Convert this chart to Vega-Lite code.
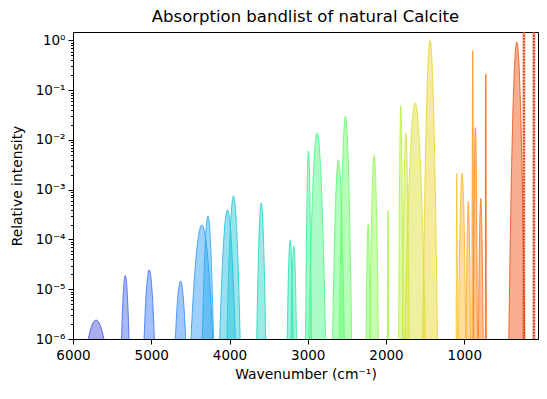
{
  "$schema": "https://vega.github.io/schema/vega-lite/v6.json",
  "autosize": "none",
  "width": 465,
  "height": 307,
  "padding": {"left": 73, "top": 32, "right": 9, "bottom": 60},
  "background": "white",
  "title": {"text": "Absorption bandlist of natural Calcite", "fontSize": 16.5, "fontWeight": "normal", "font": "DejaVu Sans", "color": "black", "anchor": "middle", "offset": 5},
  "config": {
    "font": "DejaVu Sans",
    "view": {"stroke": "black", "strokeWidth": 1},
    "axis": {"labelFont": "DejaVu Sans", "titleFont": "DejaVu Sans", "labelFontSize": 13.5, "titleFontSize": 13.9, "labelColor": "black", "titleColor": "black", "tickColor": "black", "domainColor": "black", "grid": false, "titleFontWeight": "normal", "labelOverlap": false}
  },
  "datasets": {
    "bands": [
      {"band":1,"wn":5605,"y":1e-6},{"band":1,"wn":5625,"y":1.37e-6},{"band":1,"wn":5655,"y":1.93e-6},{"band":1,"wn":5680,"y":2.27e-6},{"band":1,"wn":5705,"y":2.4e-6},{"band":1,"wn":5730,"y":2.27e-6},{"band":1,"wn":5755,"y":1.93e-6},{"band":1,"wn":5785,"y":1.37e-6},{"band":1,"wn":5805,"y":1e-6},
      {"band":2,"wn":5284,"y":1e-6},{"band":2,"wn":5293.6,"y":2.89e-6},{"band":2,"wn":5308,"y":9.1e-6},{"band":2,"wn":5320,"y":1.58e-5},{"band":2,"wn":5332,"y":1.9e-5},{"band":2,"wn":5344,"y":1.58e-5},{"band":2,"wn":5356,"y":9.1e-6},{"band":2,"wn":5370.4,"y":2.89e-6},{"band":2,"wn":5380,"y":1e-6},
      {"band":3,"wn":4960,"y":1e-6},{"band":3,"wn":4973.2,"y":3.16e-6},{"band":3,"wn":4993,"y":1.1e-5},{"band":3,"wn":5009.5,"y":2.0e-5},{"band":3,"wn":5026,"y":2.45e-5},{"band":3,"wn":5042.5,"y":2.0e-5},{"band":3,"wn":5059,"y":1.1e-5},{"band":3,"wn":5078.8,"y":3.16e-6},{"band":3,"wn":5092,"y":1e-6},
      {"band":4,"wn":4560,"y":1e-6},{"band":4,"wn":4573.2,"y":2.62e-6},{"band":4,"wn":4593,"y":7.46e-6},{"band":4,"wn":4609.5,"y":1.23e-5},{"band":4,"wn":4626,"y":1.46e-5},{"band":4,"wn":4642.5,"y":1.23e-5},{"band":4,"wn":4659,"y":7.46e-6},{"band":4,"wn":4678.8,"y":2.62e-6},{"band":4,"wn":4692,"y":1e-6},
      {"band":5,"wn":4213,"y":1e-6},{"band":5,"wn":4241,"y":6.67e-6},{"band":5,"wn":4283,"y":5.22e-5},{"band":5,"wn":4318,"y":1.4e-4},{"band":5,"wn":4353,"y":1.95e-4},{"band":5,"wn":4388,"y":1.4e-4},{"band":5,"wn":4423,"y":5.22e-5},{"band":5,"wn":4465,"y":6.67e-6},{"band":5,"wn":4493,"y":1e-6},
      {"band":6,"wn":4204,"y":1e-6},{"band":6,"wn":4218.4,"y":7.75e-6},{"band":6,"wn":4240,"y":7.12e-5},{"band":6,"wn":4258,"y":2.07e-4},{"band":6,"wn":4276,"y":2.95e-4},{"band":6,"wn":4294,"y":2.07e-4},{"band":6,"wn":4312,"y":7.12e-5},{"band":6,"wn":4333.6,"y":7.75e-6},{"band":6,"wn":4348,"y":1e-6},
      {"band":7,"wn":3926,"y":1e-6},{"band":7,"wn":3946,"y":8.57e-6},{"band":7,"wn":3976,"y":8.77e-5},{"band":7,"wn":4001,"y":2.69e-4},{"band":7,"wn":4026,"y":3.9e-4},{"band":7,"wn":4051,"y":2.69e-4},{"band":7,"wn":4076,"y":8.77e-5},{"band":7,"wn":4106,"y":8.57e-6},{"band":7,"wn":4126,"y":1e-6},
      {"band":8,"wn":3864,"y":1e-6},{"band":8,"wn":3881,"y":1.08e-5},{"band":8,"wn":3906.5,"y":1.43e-4},{"band":8,"wn":3928,"y":4.96e-4},{"band":8,"wn":3949,"y":7.5e-4},{"band":8,"wn":3970,"y":4.96e-4},{"band":8,"wn":3991.5,"y":1.43e-4},{"band":8,"wn":4017,"y":1.08e-5},{"band":8,"wn":4034,"y":1e-6},
      {"band":9,"wn":3538,"y":1e-6},{"band":9,"wn":3549.4,"y":9.6e-6},{"band":9,"wn":3566.5,"y":1.12e-4},{"band":9,"wn":3581,"y":3.64e-4},{"band":9,"wn":3595,"y":5.4e-4},{"band":9,"wn":3609,"y":3.64e-4},{"band":9,"wn":3623.5,"y":1.12e-4},{"band":9,"wn":3640.6,"y":9.6e-6},{"band":9,"wn":3652,"y":1e-6},
      {"band":10,"wn":3187,"y":1e-6},{"band":10,"wn":3194.6,"y":5.21e-6},{"band":10,"wn":3206,"y":3.11e-5},{"band":10,"wn":3215.5,"y":7.36e-5},{"band":10,"wn":3225,"y":9.8e-5},{"band":10,"wn":3234.5,"y":7.36e-5},{"band":10,"wn":3244,"y":3.11e-5},{"band":10,"wn":3255.4,"y":5.21e-6},{"band":10,"wn":3263,"y":1e-6},
      {"band":11,"wn":3144,"y":1e-6},{"band":11,"wn":3150.8,"y":4.71e-6},{"band":11,"wn":3161,"y":2.52e-5},{"band":11,"wn":3169.5,"y":5.65e-5},{"band":11,"wn":3178,"y":7.4e-5},{"band":11,"wn":3186.5,"y":5.65e-5},{"band":11,"wn":3195,"y":2.52e-5},{"band":11,"wn":3205.2,"y":4.71e-6},{"band":11,"wn":3212,"y":1e-6},
      {"band":12,"wn":2953,"y":1e-6},{"band":12,"wn":2960.6,"y":2.29e-5},{"band":12,"wn":2972,"y":6.81e-4},{"band":12,"wn":2981.5,"y":3.48e-3},{"band":12,"wn":2991,"y":6e-3},{"band":12,"wn":3000.5,"y":3.48e-3},{"band":12,"wn":3010,"y":6.81e-4},{"band":12,"wn":3021.4,"y":2.29e-5},{"band":12,"wn":3029,"y":1e-6},
      {"band":13,"wn":2773,"y":1e-6},{"band":13,"wn":2794.4,"y":3.1e-5},{"band":13,"wn":2826.5,"y":1.28e-3},{"band":13,"wn":2853.25,"y":7.66e-3},{"band":13,"wn":2880,"y":1.39e-2},{"band":13,"wn":2906.75,"y":7.66e-3},{"band":13,"wn":2933.5,"y":1.28e-3},{"band":13,"wn":2965.6,"y":3.1e-5},{"band":13,"wn":2987,"y":1e-6},
      {"band":14,"wn":2533,"y":1e-6},{"band":14,"wn":2548,"y":1.98e-5},{"band":14,"wn":2570.5,"y":5.03e-4},{"band":14,"wn":2589.25,"y":2.38e-3},{"band":14,"wn":2608,"y":4e-3},{"band":14,"wn":2626.75,"y":2.38e-3},{"band":14,"wn":2645.5,"y":5.03e-4},{"band":14,"wn":2668,"y":1.98e-5},{"band":14,"wn":2683,"y":1e-6},
      {"band":15,"wn":2439,"y":1e-6},{"band":15,"wn":2454.8,"y":4.09e-5},{"band":15,"wn":2478.5,"y":2.28e-3},{"band":15,"wn":2498.25,"y":1.57e-2},{"band":15,"wn":2518,"y":3e-2},{"band":15,"wn":2537.75,"y":1.57e-2},{"band":15,"wn":2557.5,"y":2.28e-3},{"band":15,"wn":2581.2,"y":4.09e-5},{"band":15,"wn":2597,"y":1e-6},
      {"band":16,"wn":2203,"y":1e-6},{"band":16,"wn":2208.2,"y":6.73e-6},{"band":16,"wn":2216,"y":5.32e-5},{"band":16,"wn":2222.5,"y":1.44e-4},{"band":16,"wn":2229,"y":2e-4},{"band":16,"wn":2235.5,"y":1.44e-4},{"band":16,"wn":2242,"y":5.32e-5},{"band":16,"wn":2249.8,"y":6.73e-6},{"band":16,"wn":2255,"y":1e-6},
      {"band":17,"wn":2097,"y":1e-6},{"band":17,"wn":2108,"y":2.13e-5},{"band":17,"wn":2124.5,"y":5.85e-4},{"band":17,"wn":2138.25,"y":2.88e-3},{"band":17,"wn":2152,"y":4.9e-3},{"band":17,"wn":2165.75,"y":2.88e-3},{"band":17,"wn":2179.5,"y":5.85e-4},{"band":17,"wn":2196,"y":2.13e-5},{"band":17,"wn":2207,"y":1e-6},
      {"band":18,"wn":1965,"y":1e-6},{"band":18,"wn":1966.6,"y":8.57e-6},{"band":18,"wn":1969,"y":8.77e-5},{"band":18,"wn":1971,"y":2.69e-4},{"band":18,"wn":1973,"y":3.9e-4},{"band":18,"wn":1975,"y":2.69e-4},{"band":18,"wn":1977,"y":8.77e-5},{"band":18,"wn":1979.4,"y":8.57e-6},{"band":18,"wn":1981,"y":1e-6},
      {"band":19,"wn":1783,"y":1e-6},{"band":19,"wn":1788.6,"y":4.88e-5},{"band":19,"wn":1797,"y":3.29e-3},{"band":19,"wn":1804,"y":2.49e-2},{"band":19,"wn":1811,"y":4.9e-2},{"band":19,"wn":1818,"y":2.49e-2},{"band":19,"wn":1825,"y":3.29e-3},{"band":19,"wn":1833.4,"y":4.88e-5},{"band":19,"wn":1839,"y":1e-6},
      {"band":20,"wn":1705,"y":1e-6},{"band":20,"wn":1713.4,"y":3.08e-5},{"band":20,"wn":1726,"y":1.27e-3},{"band":20,"wn":1736.5,"y":7.56e-3},{"band":20,"wn":1747,"y":1.37e-2},{"band":20,"wn":1757.5,"y":7.56e-3},{"band":20,"wn":1768,"y":1.27e-3},{"band":20,"wn":1780.6,"y":3.08e-5},{"band":20,"wn":1789,"y":1e-6},
      {"band":21,"wn":1496,"y":1e-6},{"band":21,"wn":1522.4,"y":5.12e-5},{"band":21,"wn":1562,"y":3.64e-3},{"band":21,"wn":1595,"y":2.83e-2},{"band":21,"wn":1628,"y":5.6e-2},{"band":21,"wn":1661,"y":2.83e-2},{"band":21,"wn":1694,"y":3.64e-3},{"band":21,"wn":1733.6,"y":5.12e-5},{"band":21,"wn":1760,"y":1e-6},
      {"band":22,"wn":1343,"y":1e-6},{"band":22,"wn":1361.8,"y":1.45e-4},{"band":22,"wn":1390,"y":3.16e-2},{"band":22,"wn":1413.5,"y":0.422},{"band":22,"wn":1437,"y":1.0},{"band":22,"wn":1460.5,"y":0.422},{"band":22,"wn":1484,"y":3.16e-2},{"band":22,"wn":1512.2,"y":1.45e-4},{"band":22,"wn":1531,"y":1e-6},
      {"band":23,"wn":1088,"y":1e-6},{"band":23,"wn":1089.6,"y":1.58e-5},{"band":23,"wn":1092,"y":3.15e-4},{"band":23,"wn":1094,"y":1.33e-3},{"band":23,"wn":1096,"y":2.15e-3},{"band":23,"wn":1098,"y":1.33e-3},{"band":23,"wn":1100,"y":3.15e-4},{"band":23,"wn":1102.4,"y":1.58e-5},{"band":23,"wn":1104,"y":1e-6},
      {"band":24,"wn":981,"y":1e-6},{"band":24,"wn":990.4,"y":1.58e-5},{"band":24,"wn":1004.5,"y":3.15e-4},{"band":24,"wn":1016.25,"y":1.33e-3},{"band":24,"wn":1028,"y":2.15e-3},{"band":24,"wn":1039.75,"y":1.33e-3},{"band":24,"wn":1051.5,"y":3.15e-4},{"band":24,"wn":1065.6,"y":1.58e-5},{"band":24,"wn":1075,"y":1e-6},
      {"band":25,"wn":920,"y":1e-6},{"band":25,"wn":925.6,"y":9.89e-6},{"band":25,"wn":934,"y":1.18e-4},{"band":25,"wn":941,"y":3.89e-4},{"band":25,"wn":948,"y":5.8e-4},{"band":25,"wn":955,"y":3.89e-4},{"band":25,"wn":962,"y":1.18e-4},{"band":25,"wn":970.4,"y":9.89e-6},{"band":25,"wn":976,"y":1e-6},
      {"band":26,"wn":882,"y":1e-6},{"band":26,"wn":884,"y":1.22e-4},{"band":26,"wn":887,"y":2.23e-2},{"band":26,"wn":889.5,"y":0.273},{"band":26,"wn":892,"y":0.63},{"band":26,"wn":894.5,"y":0.273},{"band":26,"wn":897,"y":2.23e-2},{"band":26,"wn":900,"y":1.22e-4},{"band":26,"wn":902,"y":1e-6},
      {"band":27,"wn":832,"y":1e-6},{"band":27,"wn":837.2,"y":3.39e-5},{"band":27,"wn":845,"y":1.54e-3},{"band":27,"wn":851.5,"y":9.65e-3},{"band":27,"wn":858,"y":1.78e-2},{"band":27,"wn":864.5,"y":9.65e-3},{"band":27,"wn":871,"y":1.54e-3},{"band":27,"wn":878.8,"y":3.39e-5},{"band":27,"wn":884,"y":1e-6},
      {"band":28,"wn":759,"y":1e-6},{"band":28,"wn":765,"y":1.04e-5},{"band":28,"wn":774,"y":1.32e-4},{"band":28,"wn":781.5,"y":4.46e-4},{"band":28,"wn":789,"y":6.7e-4},{"band":28,"wn":796.5,"y":4.46e-4},{"band":28,"wn":804,"y":1.32e-4},{"band":28,"wn":813,"y":1.04e-5},{"band":28,"wn":819,"y":1e-6},
      {"band":29,"wn":719,"y":1e-6},{"band":29,"wn":720.2,"y":8.24e-5},{"band":29,"wn":722,"y":9.8e-3},{"band":29,"wn":723.5,"y":9.75e-2},{"band":29,"wn":725,"y":0.21},{"band":29,"wn":726.5,"y":9.75e-2},{"band":29,"wn":728,"y":9.8e-3},{"band":29,"wn":729.8,"y":8.24e-5},{"band":29,"wn":731,"y":1e-6},
      {"band":30,"wn":227,"y":1e-6},{"band":30,"wn":247.4,"y":1.41e-4},{"band":30,"wn":278,"y":2.99e-2},{"band":30,"wn":303.5,"y":0.394},{"band":30,"wn":329,"y":0.93},{"band":30,"wn":354.5,"y":0.394},{"band":30,"wn":380,"y":2.99e-2},{"band":30,"wn":410.6,"y":1.41e-4},{"band":30,"wn":431,"y":1e-6}
    ],
    "lines": [
      {"band":31,"wn":238},
      {"band":32,"wn":110}
    ]
  },
  "encoding": {
    "x": {"field": "wn", "type": "quantitative",
      "scale": {"domain": [58, 6000], "reverse": true, "zero": false, "nice": false},
      "axis": {"values": [6000, 5000, 4000, 3000, 2000, 1000], "title": "Wavenumber (cm⁻¹)", "tickSize": 5, "labelPadding": 4, "titlePadding": 6, "format": "d", "labelFlush": false}}
  },
  "layer": [
    {
      "data": {"name": "bands"},
      "mark": {"type": "area", "interpolate": "monotone", "opacity": 0.47, "clip": true},
      "encoding": {
        "y": {"field": "y", "type": "quantitative",
          "scale": {"type": "log", "domain": [1e-6, 1.48], "nice": false},
          "axis": {"title": "Relative intensity", "titlePadding": 11, "labelPadding": 3,
            "values": [1e-6,2e-6,3e-6,4e-6,5e-6,6e-6,7e-6,8e-6,9e-6,1e-5,2e-5,3e-5,4e-5,5e-5,6e-5,7e-5,8e-5,9e-5,1e-4,2e-4,3e-4,4e-4,5e-4,6e-4,7e-4,8e-4,9e-4,1e-3,2e-3,3e-3,4e-3,5e-3,6e-3,7e-3,8e-3,9e-3,1e-2,2e-2,3e-2,4e-2,5e-2,6e-2,7e-2,8e-2,9e-2,0.1,0.2,0.3,0.4,0.5,0.6,0.7,0.8,0.9,1],
            "labelExpr": "datum.value==1?'10⁰':datum.value==0.1?'10⁻¹':datum.value==0.01?'10⁻²':datum.value==0.001?'10⁻³':datum.value==0.0001?'10⁻⁴':datum.value==0.00001?'10⁻⁵':datum.value==0.000001?'10⁻⁶':''",
            "tickSize": {"condition": {"test": "indexof([1,0.1,0.01,0.001,0.0001,0.00001,0.000001], datum.value) >= 0", "value": 5}, "value": 2.5}}},
        "y2": {"datum": 1e-6},
        "detail": {"field": "band"},
        "color": {"field": "band", "type": "quantitative", "legend": null,
          "scale": {"scheme": {"name": "turbo", "extent": [0.1, 0.88]}, "domain": [1, 32]}}
      }
    },
    {
      "data": {"name": "bands"},
      "mark": {"type": "line", "interpolate": "monotone", "strokeWidth": 1, "opacity": 0.85, "clip": true},
      "encoding": {
        "y": {"field": "y", "type": "quantitative"},
        "detail": {"field": "band"},
        "color": {"field": "band", "type": "quantitative", "legend": null}
      }
    },
    {
      "data": {"name": "lines"},
      "mark": {"type": "rule", "strokeWidth": 3, "opacity": 0.4},
      "encoding": {
        "color": {"field": "band", "type": "quantitative", "legend": null}
      }
    },
    {
      "data": {"name": "lines"},
      "mark": {"type": "rule", "strokeWidth": 2, "strokeDash": [1.5, 1.5]},
      "encoding": {
        "color": {"field": "band", "type": "quantitative", "legend": null}
      }
    }
  ]
}
